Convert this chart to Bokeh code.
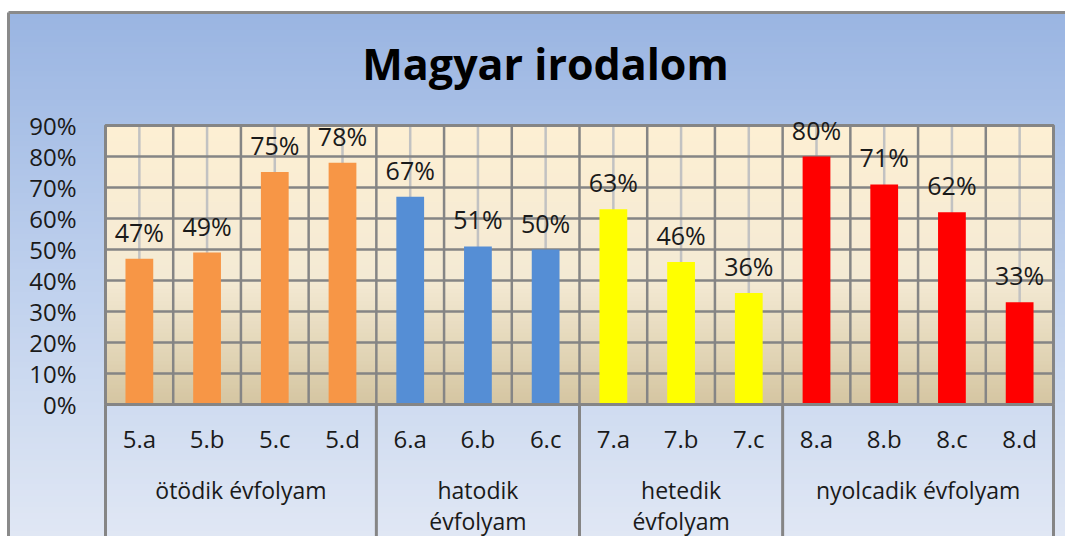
from bokeh.plotting import figure
from bokeh.models import Range1d
from bokeh.core.properties import value
from bokeh.embed import file_html
from bokeh.resources import INLINE

# ---- data ----
classes = ["5.a", "5.b", "5.c", "5.d", "6.a", "6.b", "6.c",
           "7.a", "7.b", "7.c", "8.a", "8.b", "8.c", "8.d"]
scores = [47, 49, 75, 78, 67, 51, 50, 63, 46, 36, 80, 71, 62, 33]
group_lines = [["ötödik évfolyam"], ["hatodik", "évfolyam"],
               ["hetedik", "évfolyam"], ["nyolcadik évfolyam"]]
group_sizes = [4, 3, 3, 4]
group_colors = ["#F79646", "#558ED5", "#FFFF00", "#FF0000"]
y_ticks = [0, 10, 20, 30, 40, 50, 60, 70, 80, 90]
y_tick_labels = [f"{t}%" for t in y_ticks]
title = "Magyar irodalom"

# ---- layout (pixels in figure) ----
W, H = 1065, 536
PL, PR = 105, 1053         # plot area left/right px
PT, PB = 125, 404          # plot area top(90%)/bottom(0%) px
n = len(classes)
ux = (PR - PL) / n
uy = (PB - PT) / 90.0
x0 = -PL / ux
x1 = n + (W - PR) / ux
y1 = 90 + PT / uy
y0 = -(H - PB) / uy

def X(px):
    return x0 + px / ux

def Y(py):
    return y1 - py / uy

FONT = "Open Sans"
TXT = "#1a1a1a"

p = figure(width=W, height=H, output_backend="svg", toolbar_location=None,
           x_range=Range1d(x0, x1), y_range=Range1d(y0, y1),
           min_border=0, outline_line_color=None)
p.axis.visible = False
p.grid.visible = False
p.background_fill_color = "white"
p.border_fill_color = "white"

def lerp(c1, c2, t):
    t = max(0.0, min(1.0, t))
    return "#%02x%02x%02x" % tuple(int(round(a + (b - a) * t)) for a, b in zip(c1, c2))

# outer blue gradient (overlapping bands, each running to the bottom -> no seams)
top_px = 12
steps = 90
c_top, c_mid, c_bot = (154, 181, 226), (190, 208, 237), (224, 231, 244)
qs_t, qs_c = [], []
for k in range(steps):
    a = top_px + (H - top_px) * k / steps
    t = k / (steps - 1)
    col = lerp(c_top, c_mid, t * 2) if t < 0.5 else lerp(c_mid, c_bot, (t - 0.5) * 2)
    qs_t.append(Y(a)); qs_c.append(col)
p.quad(left=X(8), right=x1, top=qs_t, bottom=y0, fill_color=qs_c, line_color=None)

# plot area cream gradient
steps2 = 70
p_top, p_mid, p_bot = (253, 239, 211), (244, 234, 212), (213, 198, 162)
pq_t, pq_c = [], []
for k in range(steps2):
    a = 90 - 90 * k / steps2
    t = k / (steps2 - 1)
    col = lerp(p_top, p_mid, t / 0.55) if t < 0.55 else lerp(p_mid, p_bot, (t - 0.55) / 0.45)
    pq_t.append(a); pq_c.append(col)
p.quad(left=0, right=n, top=pq_t, bottom=0, fill_color=pq_c, line_color=None)

# outer border (top & left)
p.segment(x0=[X(8)], y0=[Y(12)], x1=[x1], y1=[Y(12)], line_color="#8a8a8a", line_width=3)
p.segment(x0=[X(8)], y0=[Y(12)], x1=[X(8)], y1=[y0], line_color="#8a8a8a", line_width=3)

# vertical gridlines: category centers (light) and boundaries (dark)
centers = [i + 0.5 for i in range(n)]
p.segment(x0=centers, y0=0, x1=centers, y1=90, line_color="#c2c2c2", line_width=2.5)
bounds = list(range(1, n))
p.segment(x0=bounds, y0=0, x1=bounds, y1=90, line_color="#858585", line_width=2.5)
# horizontal gridlines
p.segment(x0=0, y0=y_ticks, x1=n, y1=y_ticks, line_color="#858585", line_width=2.5)

# bars
bar_colors = []
for c, s in zip(group_colors, group_sizes):
    bar_colors += [c] * s
p.vbar(x=centers, top=scores, bottom=0, width=0.41, fill_color=bar_colors, line_color=None)

# plot border
p.quad(left=0, right=n, top=90, bottom=0, fill_color=None, line_color="#858585", line_width=3)

# group separators below the axis
seps = [0]
for s in group_sizes:
    seps.append(seps[-1] + s)
p.segment(x0=seps, y0=0, x1=seps, y1=y0, line_color="#858585", line_width=3)

# value labels
p.text(x=centers, y=scores, text=[f"{v}%" for v in scores], text_align="center",
       text_baseline="middle", y_offset=-27, text_font=value(FONT),
       text_font_size="25px", text_color=TXT)

# y tick labels
p.text(x=X(76), y=y_ticks, text=y_tick_labels, text_align="right", text_baseline="middle",
       text_font=value(FONT), text_font_size="24px", text_color=TXT)

# category labels
p.text(x=centers, y=Y(438), text=classes, text_align="center", text_baseline="middle",
       text_font=value(FONT), text_font_size="24px", text_color=TXT)

# group labels
gx, gy, gt = [], [], []
for i, lines in enumerate(group_lines):
    cx = (seps[i] + seps[i + 1]) / 2
    for j, ln in enumerate(lines):
        gx.append(cx); gy.append(Y(489 + 31 * j)); gt.append(ln)
p.text(x=gx, y=gy, text=gt, text_align="center", text_baseline="middle",
       text_font=value(FONT), text_font_size="23px", text_color=TXT)

# title
p.text(x=[X(545)], y=[Y(63)], text=[title], text_align="center", text_baseline="middle",
       text_font=value(FONT), text_font_style="bold", text_font_size="43px",
       text_color="#000000")

open("out.html", "w").write(file_html(p, INLINE))
